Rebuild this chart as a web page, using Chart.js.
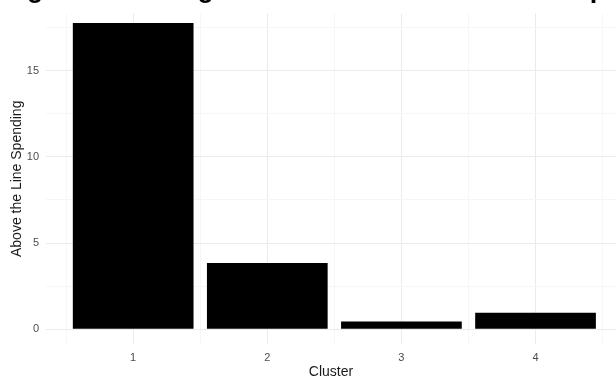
<!DOCTYPE html>
<html>
<head>
<meta charset="utf-8">
<script src="https://cdn.jsdelivr.net/npm/chart.js@4/dist/chart.umd.min.js"></script>
<style>
  html, body { margin: 0; padding: 0; background: #fff; }
  #wrap { position: relative; width: 616px; height: 379px; overflow: hidden; }
  #ttl {
    position: absolute; left: 3px; top: -25px; white-space: nowrap;
    font: bold 27px/27px "Liberation Sans", Arial, sans-serif; color: #000;
  }
  canvas { position: absolute; left: 0; top: 0; }
</style>
</head>
<body>
<div id="wrap">
  <canvas id="chart" width="616" height="379"></canvas>
  <div id="ttl">Figure 3: Average Above the Line Media Net Spend by Cluster</div>
</div>
<script>
(function(){
    var clusters = [1, 2, 3, 4];
    var spending = [17.76, 3.84, 0.45, 0.96];
    var yTicksShown = [0, 5, 10, 15];

    var majorGrid = '#ebebeb';
    var minorGrid = '#f6f6f6';

    const data = {
        datasets: [{
            label: 'Above the Line Spending',
            data: clusters.map(function(c, i){ return {x: c, y: spending[i]}; }),
            backgroundColor: '#000000',
            borderWidth: 0,
            // ticks sit every half unit, so 1.8 of that = 0.9 of a cluster
            barPercentage: 1.8,
            categoryPercentage: 1.0
        }]
    };

    const config = {
        type: 'bar',
        data,
        options: {
            responsive: false,
            animation: false,
            layout: { padding: { top: 8, right: 0, bottom: 0, left: 0 } },
            scales: {
                x: {
                    type: 'linear',
                    offset: false,
                    min: 0.35,
                    max: 4.6,
                    border: { display: false },
                    grid: {
                        drawTicks: false,
                        offset: false,
                        color: function(ctx) {
                            if (!ctx.tick) return majorGrid;
                            return Number.isInteger(ctx.tick.value) ? majorGrid : minorGrid;
                        }
                    },
                    ticks: {
                        stepSize: 0.5,
                        includeBounds: false,
                        autoSkip: false,
                        maxRotation: 0,
                        padding: 7,
                        color: '#4d4d4d',
                        font: { family: 'Liberation Sans', size: 11 },
                        callback: function(value) {
                            return clusters.indexOf(value) >= 0 ? String(value) : '';
                        }
                    },
                    title: {
                        display: true,
                        text: 'Cluster',
                        color: '#1a1a1a',
                        font: { family: 'Liberation Sans', size: 14, lineHeight: 1 },
                        padding: { top: 0, bottom: 0 }
                    },
                    afterFit: function(scale) { scale.height = 35; }
                },
                y: {
                    min: -0.855,
                    max: 18.3,
                    border: { display: false },
                    grid: {
                        drawTicks: false,
                        color: function(ctx) {
                            if (!ctx.tick) return majorGrid;
                            return yTicksShown.indexOf(ctx.tick.value) >= 0 ? majorGrid : minorGrid;
                        }
                    },
                    ticks: {
                        stepSize: 2.5,
                        includeBounds: false,
                        padding: 7,
                        color: '#4d4d4d',
                        font: { family: 'Liberation Sans', size: 11 },
                        callback: function(value) {
                            return yTicksShown.indexOf(value) >= 0 ? String(value) : '';
                        }
                    },
                    title: {
                        display: true,
                        text: 'Above the Line Spending',
                        color: '#1a1a1a',
                        font: { family: 'Liberation Sans', size: 14, lineHeight: 1 },
                        padding: { top: 10, bottom: 0 }
                    },
                    afterFit: function(scale) { scale.width = 46; }
                }
            },
            plugins: {
                legend: { display: false },
                tooltip: { enabled: false }
            }
        }
    };

    new Chart(document.getElementById('chart'), config);
})();
</script>
</body>
</html>
